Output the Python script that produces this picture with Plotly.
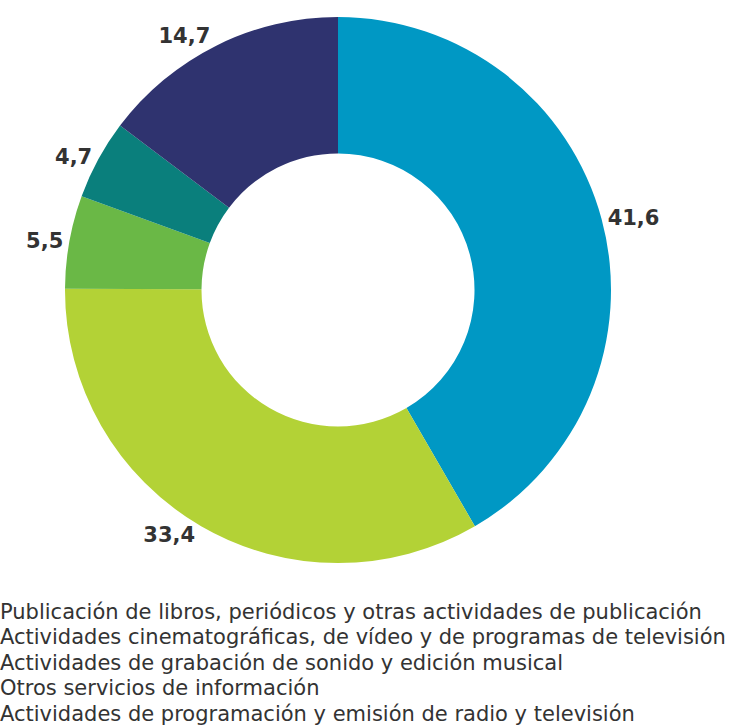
import plotly.graph_objects as go

categories = [
    "Publicación de libros, periódicos y otras actividades de publicación",
    "Actividades cinematográficas, de vídeo y de programas de televisión",
    "Actividades de grabación de sonido y edición musical",
    "Otros servicios de información",
    "Actividades de programación y emisión de radio y televisión",
]
values = [41.6, 33.4, 5.5, 4.7, 14.7]
colors = ["#0098C4", "#B3D236", "#6AB846", "#0A7F7C", "#2F336F"]
labels_text = [f"{v:.1f}".replace(".", ",") for v in values]

W, H = 734, 727

fig = go.Figure(go.Pie(
    labels=categories,
    values=values,
    text=labels_text,
    textinfo="text",
    textposition="outside",
    hole=0.5,
    sort=False,
    direction="clockwise",
    rotation=0,
    marker=dict(colors=colors, line=dict(width=0)),
    outsidetextfont=dict(family="DejaVu Sans", size=21, color="#333333", weight="bold"),
    domain=dict(x=[65 / W, 611 / W], y=[1 - 563 / H, 1 - 17 / H]),
    hoverinfo="label+value",
))

# legend-like list of categories below the chart
legend_top = 611.5
legend_step = 25.5
for i, name in enumerate(categories):
    fig.add_annotation(
        text=name,
        xref="paper", yref="paper",
        x=-2 / W, xanchor="left",
        y=1 - (legend_top + i * legend_step) / H, yanchor="middle",
        showarrow=False,
        align="left",
        font=dict(family="DejaVu Sans", size=21, color="#333333"),
    )

fig.update_layout(
    width=W, height=H,
    margin=dict(l=0, r=0, t=0, b=0),
    paper_bgcolor="white",
    plot_bgcolor="white",
    showlegend=False,
)

fig.write_html(
    "out.html",
    config={"displayModeBar": False},
    post_script="document.body.style.margin='0';document.body.style.overflow='hidden';",
)
